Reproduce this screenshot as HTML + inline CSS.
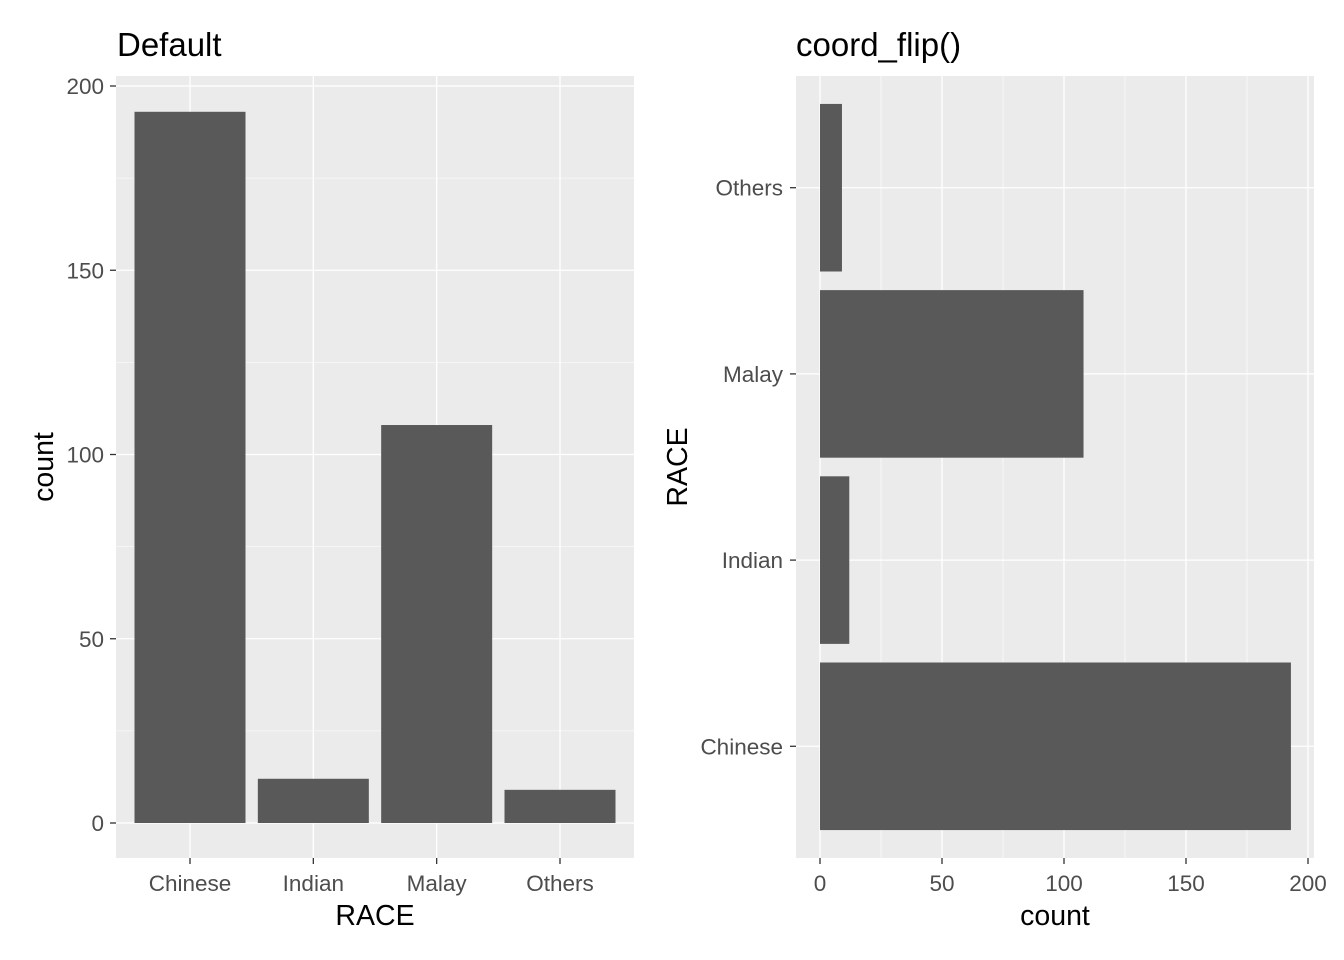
<!DOCTYPE html>
<html><head><meta charset="utf-8"><style>body{margin:0;background:#fff}svg{display:block}text{font-family:"Liberation Sans",sans-serif}</style></head>
<body>
<svg id="c" width="1344" height="960"></svg>
<script>
const categories=["Chinese","Indian","Malay","Others"];
const counts=[193,12,108,9];
const ticks=[0,50,100,150,200];
const minorTicks=[25,75,125,175];
const svg=document.getElementById('c');
const NS="http://www.w3.org/2000/svg";
function el(t,a,p,txt){const e=document.createElementNS(NS,t);for(const k in a)e.setAttribute(k,a[k]);if(txt!==undefined)e.textContent=txt;(p||svg).appendChild(e);return e;}
const TF=22.5, AF=28.5, HF=33;
// left panel
const L={x0:116,x1:634,y0:76,y1:858};
const ly=v=>823-v*(823-86)/200;
const step=(L.x1-L.x0)/(categories.length+0.2);
const lx=i=>L.x0+step*(0.6+i);
let g=el('g',{});
el('rect',{x:L.x0,y:L.y0,width:L.x1-L.x0,height:L.y1-L.y0,fill:'#EBEBEB'},g);
minorTicks.forEach(v=>el('line',{x1:L.x0,x2:L.x1,y1:ly(v),y2:ly(v),stroke:'#fff','stroke-width':0.6},g));
ticks.forEach(v=>el('line',{x1:L.x0,x2:L.x1,y1:ly(v),y2:ly(v),stroke:'#fff','stroke-width':1.3},g));
categories.forEach((c,i)=>el('line',{x1:lx(i),x2:lx(i),y1:L.y0,y2:L.y1,stroke:'#fff','stroke-width':1.3},g));
categories.forEach((c,i)=>{const b=el('rect',{x:lx(i)-step*0.45,y:ly(counts[i]),width:step*0.9,height:ly(0)-ly(counts[i]),fill:'#595959'},g);});
ticks.forEach(v=>{el('line',{x1:L.x0-6,x2:L.x0,y1:ly(v),y2:ly(v),stroke:'#333','stroke-width':1.3},g);const t=el('text',{x:L.x0-12,y:ly(v)+8,'text-anchor':'end','font-size':TF,fill:'#4D4D4D'},g,v);});
categories.forEach((c,i)=>{el('line',{x1:lx(i),x2:lx(i),y1:L.y1,y2:L.y1+6,stroke:'#333','stroke-width':1.3},g);const t=el('text',{x:lx(i),y:891,'text-anchor':'middle','font-size':TF,fill:'#4D4D4D'},g,c);});
let t=el('text',{x:375,y:925,'text-anchor':'middle','font-size':AF,fill:'#000'},g,'RACE');
t=el('text',{x:53,y:467,'text-anchor':'middle','font-size':AF,fill:'#000',transform:'rotate(-90 53 467)'},g,'count');
t=el('text',{x:117,y:56,'font-size':HF,fill:'#000'},g,'Default');
// right panel
const R={x0:796,x1:1314,y0:76,y1:858};
const rx=v=>820+v*(1308-820)/200;
const rstep=(R.y1-R.y0)/(categories.length+0.2);
const ry=i=>R.y1-rstep*(0.6+i);
g=el('g',{});
el('rect',{x:R.x0,y:R.y0,width:R.x1-R.x0,height:R.y1-R.y0,fill:'#EBEBEB'},g);
minorTicks.forEach(v=>el('line',{x1:rx(v),x2:rx(v),y1:R.y0,y2:R.y1,stroke:'#fff','stroke-width':0.6},g));
ticks.forEach(v=>el('line',{x1:rx(v),x2:rx(v),y1:R.y0,y2:R.y1,stroke:'#fff','stroke-width':1.3},g));
categories.forEach((c,i)=>el('line',{x1:R.x0,x2:R.x1,y1:ry(i),y2:ry(i),stroke:'#fff','stroke-width':1.3},g));
categories.forEach((c,i)=>{const b=el('rect',{x:rx(0),y:ry(i)-rstep*0.45,width:rx(counts[i])-rx(0),height:rstep*0.9,fill:'#595959'},g);});
ticks.forEach(v=>{el('line',{x1:rx(v),x2:rx(v),y1:R.y1,y2:R.y1+6,stroke:'#333','stroke-width':1.3},g);const t=el('text',{x:rx(v),y:891,'text-anchor':'middle','font-size':TF,fill:'#4D4D4D'},g,v);});
categories.forEach((c,i)=>{el('line',{x1:R.x0-6,x2:R.x0,y1:ry(i),y2:ry(i),stroke:'#333','stroke-width':1.3},g);const t=el('text',{x:R.x0-13,y:ry(i)+8,'text-anchor':'end','font-size':TF,fill:'#4D4D4D'},g,c);});
t=el('text',{x:1055,y:925,'text-anchor':'middle','font-size':AF,fill:'#000'},g,'count');
t=el('text',{x:687,y:467,'text-anchor':'middle','font-size':AF,fill:'#000',transform:'rotate(-90 687 467)'},g,'RACE');
t=el('text',{x:796,y:56,'font-size':HF,fill:'#000'},g,'coord_flip()');
</script>
</body></html>
